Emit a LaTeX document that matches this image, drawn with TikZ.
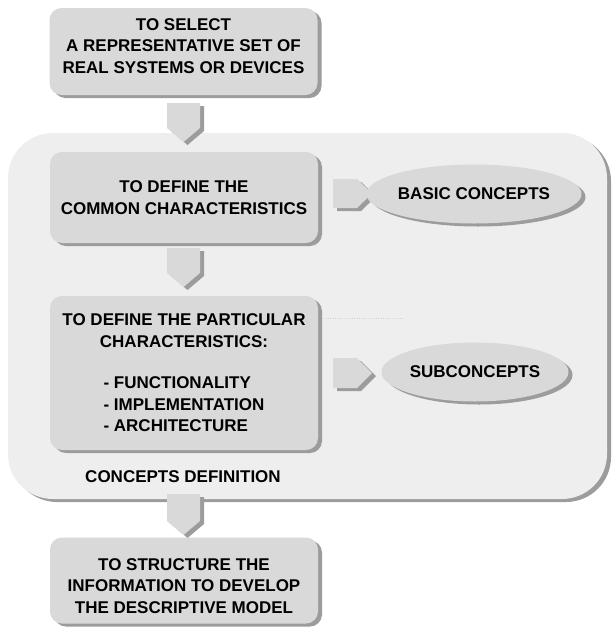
\documentclass[tikz,border=0pt]{standalone}
\usepackage{fontspec}
\setmainfont{Liberation Sans}
\usetikzlibrary{shapes.geometric,shadows}
\definecolor{boxgray}{HTML}{D9D9D9}
\definecolor{panelgray}{HTML}{EEEEEE}
\definecolor{shadegray}{HTML}{9C9C9C}
\tikzset{
  lbl/.style={font=\fontsize{17}{21.5}\selectfont\bfseries, align=center, inner sep=0pt},
  shade/.style={drop shadow={shadow xshift=4pt, shadow yshift=-3pt, fill=shadegray, opacity=1}},
  stepbox/.style={lbl, shade, rectangle, rounded corners=12pt, fill=boxgray, minimum width=268pt},
  concept/.style={lbl, shade, ellipse, fill=boxgray, minimum width=187pt, minimum height=59pt},
  chev/.style={shade, fill=boxgray},
  panel/.style={shade, rectangle, rounded corners=45pt, fill=panelgray, minimum width=599pt, minimum height=366pt}
}
\begin{document}
\begin{tikzpicture}[x=1pt,y=-1pt]
\useasboundingbox[fill=white] (0,0) rectangle (613,630);
% concepts definition panel
\node[panel] (cdef) at (307.5,316) {};
\node[lbl] (cdeflbl) at (183,477) {CONCEPTS DEFINITION};
% down arrows
\coordinate (a1) at (167,103);
\coordinate (a2) at (167,248);
\coordinate (a3) at (167,494);
\fill[chev] (a1) -- ++(33,0) -- ++(0,25) -- ++(-16.5,14) -- ++(-16.5,-14) -- cycle;
\fill[chev] (a2) -- ++(33,0) -- ++(0,25) -- ++(-16.5,14) -- ++(-16.5,-14) -- cycle;
\fill[chev] (a3) -- ++(33,0) -- ++(0,27) -- ++(-16.5,14) -- ++(-16.5,-14) -- cycle;
% right arrows
\coordinate (r1) at (333,179);
\coordinate (r2) at (333,358);
\fill[chev] (r1) -- ++(24,0) -- ++(15,14.5) -- ++(-15,14.5) -- ++(-24,0) -- cycle;
\fill[chev] (r2) -- ++(24,0) -- ++(15,15) -- ++(-15,15) -- ++(-24,0) -- cycle;
% steps
\node[stepbox, minimum height=87pt] (sel) at (183.5,51.5) {};
\node[lbl] (seltxt) at (183.5,46) {TO SELECT\\A REPRESENTATIVE SET OF\\REAL SYSTEMS OR DEVICES};
\node[stepbox, minimum height=91pt] (com) at (184,197.5) {TO DEFINE THE\\COMMON CHARACTERISTICS};
\node[stepbox, minimum height=154pt] (par) at (184,373) {};
\node[lbl] (partxt) at (184,376) {TO DEFINE THE PARTICULAR\\CHARACTERISTICS:\\[25pt]
  \begin{tabular}{@{}l@{}}- FUNCTIONALITY\\- IMPLEMENTATION\\- ARCHITECTURE\end{tabular}};
\node[stepbox, minimum height=86pt] (str) at (184,580.5) {};
\node[lbl] (strtxt) at (184,586) {TO STRUCTURE THE\\INFORMATION TO DEVELOP\\THE DESCRIPTIVE MODEL};
% concepts
\node[concept] (basic) at (474,194) {BASIC CONCEPTS};
\node[concept] (sub) at (475,372) {SUBCONCEPTS};
\draw[gray!35, dotted] (par.north east) ++(5,22) -- ++(80,0);
\end{tikzpicture}
\end{document}
